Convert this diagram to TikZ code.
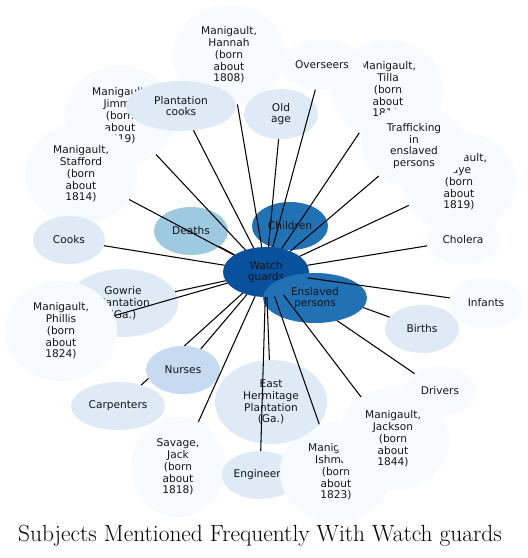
\documentclass[tikz,border=0pt]{standalone}
\usepackage{fontspec}
\usetikzlibrary{shapes.geometric}
\newfontfamily\dvs{DejaVu Sans}
\definecolor{cA}{HTML}{F7FBFF}
\definecolor{cB}{HTML}{DEEBF7}
\definecolor{cC}{HTML}{C6DBEF}
\definecolor{cD}{HTML}{9ECAE1}
\definecolor{cE}{HTML}{2171B5}
\definecolor{cF}{HTML}{08519C}
\tikzset{
  nd/.style={ellipse, draw=none, inner sep=0pt, outer sep=0pt, align=center,
    font=\dvs\fontsize{10.6}{11.8}\selectfont, text=black!92},
  sz/.style 2 args={minimum width=#1pt, minimum height=#2pt},
  edge/.style={draw=black, line width=1.05pt}
}
\begin{document}
\begin{tikzpicture}[x=1pt,y=-1pt]
\useasboundingbox[fill=white] (0,0) rectangle (528,558);
% background nodes
\node[nd,fill=cA,sz={112}{100}] (jimmy) at (120,116) {Manigault,\\Jimmy\\(born\\about\\1819)};
\node[nd,fill=cA,sz={112}{100}] (hannah) at (229,55) {Manigault,\\Hannah\\(born\\about\\1808)};
\node[nd,fill=cA,sz={112}{100}] (tilla) at (388,90) {Manigault,\\Tilla\\(born\\about\\1816)};
\node[nd,fill=cA,sz={114}{100}] (faye) at (459,182) {Manigault,\\Faye\\(born\\about\\1819)};
\node[nd,fill=cA,sz={112}{100}] (stafford) at (81,174) {Manigault,\\Stafford\\(born\\about\\1814)};
\node[nd,fill=cB,sz={110}{50}] (pcooks) at (181,106) {Plantation\\cooks};
\node[nd,fill=cB,sz={74}{50}] (oldage) at (281,114) {Old\\age};
\node[nd,fill=cA,sz={83}{50}] (overseers) at (322,65) {Overseers};
\node[nd,fill=cA,sz={106}{80}] (traff) at (414,146) {Trafficking\\in\\enslaved\\persons};
\node[nd,fill=cB,sz={72}{48}] (cooks) at (69,240) {Cooks};
\node[nd,fill=cA,sz={74}{48}] (cholera) at (463,240) {Cholera};
\node[nd,fill=cD,sz={74}{48}] (deaths) at (191,231) {Deaths};
\node[nd,fill=cE,sz={76}{48}] (children) at (290,226) {Children};
\node[nd,fill=cF,sz={86}{50}] (wg) at (266,272) {Watch\\guards};
\node[nd,fill=cB,sz={110}{68}] (gowrie) at (123,303) {Gowrie\\Plantation\\(Ga.)};
\node[nd,fill=cA,sz={112}{100}] (phillis) at (61,331) {Manigault,\\Phillis\\(born\\about\\1824)};
\node[nd,fill=cA,sz={94}{100}] (savage) at (178,467) {Savage,\\Jack\\(born\\about\\1818)};
\node[nd,fill=cB,sz={76}{48}] (engineers) at (260,475) {Engineers};
\node[nd,fill=cA,sz={112}{100}] (ishmael) at (336,472) {Manigault,\\Ishmael\\(born\\about\\1823)};
\node[nd,fill=cA,sz={112}{102}] (jackson) at (393,439) {Manigault,\\Jackson\\(born\\about\\1844)};
\node[nd,fill=cA,sz={74}{48}] (drivers) at (440,391) {Drivers};
\node[nd,fill=cA,sz={74}{50}] (infants) at (486,303) {Infants};
\node[nd,fill=cB,sz={112}{84}] (eh) at (271,402) {East\\Hermitage\\Plantation\\(Ga.)};
\node[nd,fill=cB,sz={94}{48}] (carpenters) at (118,406) {Carpenters};
\node[nd,fill=cB,sz={74}{48}] (births) at (422,329) {Births};
% edges hidden below later nodes
\draw[edge] (wg) -- (births);
\draw[edge] (wg) -- (drivers);
\draw[edge] (wg) -- (carpenters);
% nodes on top of those edges
\node[nd,fill=cE,sz={104}{50}] (enslaved) at (315,298) {Enslaved\\persons};
\node[nd,fill=cC,sz={74}{48}] (nurses) at (183,370) {Nurses};
% remaining edges
\foreach \t in {jimmy,hannah,tilla,faye,stafford,pcooks,oldage,overseers,traff,cooks,cholera,deaths,gowrie,phillis,savage,engineers,ishmael,jackson,infants,eh,nurses}
  \draw[edge] (wg) -- (\t);
\node[font=\fontsize{23.4}{27}\selectfont] (title) at (260,536) {Subjects Mentioned Frequently With Watch guards};
\end{tikzpicture}
\end{document}
